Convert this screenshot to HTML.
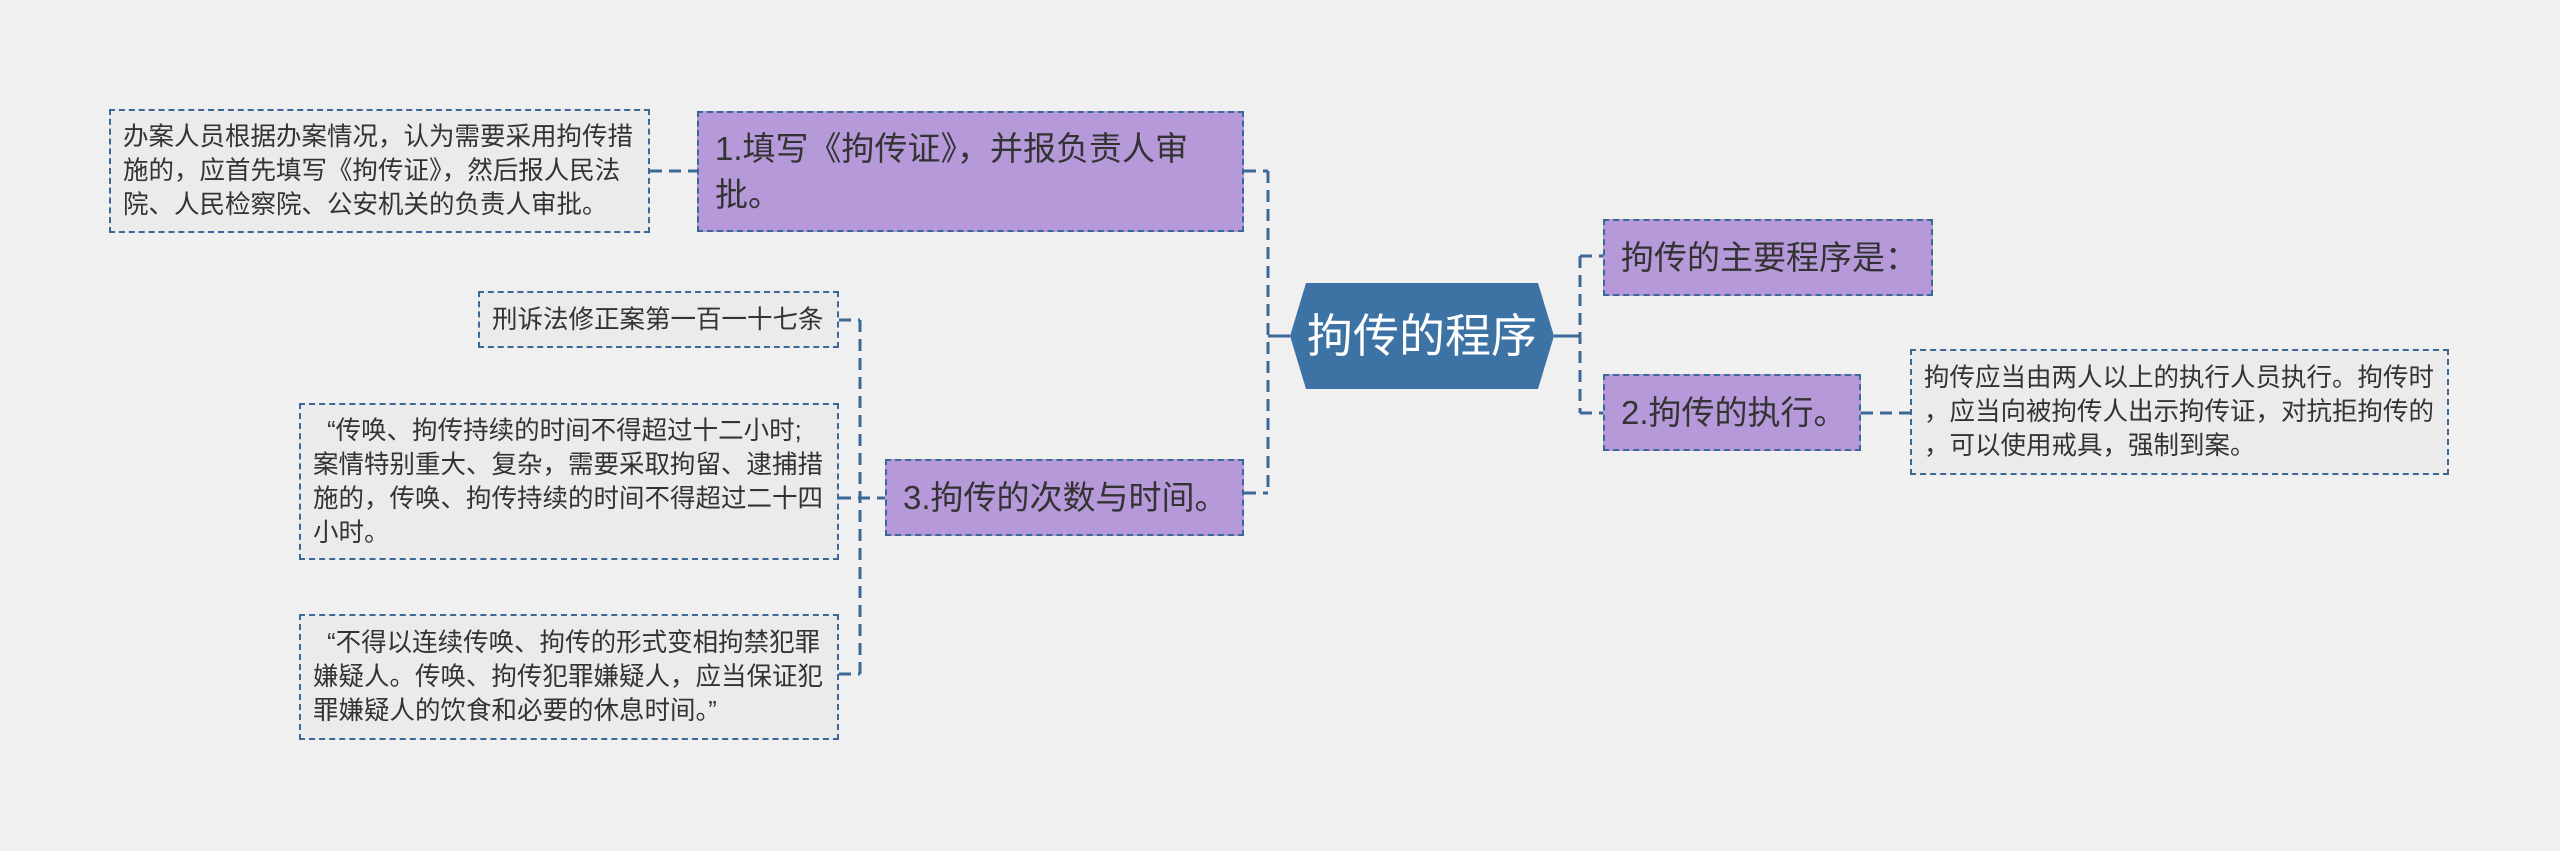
<!DOCTYPE html>
<html><head><meta charset="utf-8"><style>
body{margin:0;width:2560px;height:851px;background:#f0f0f0;overflow:hidden;position:relative;font-family:"Liberation Sans","Noto Sans CJK SC",sans-serif;}
.b{position:absolute;box-sizing:border-box;border:2.5px dashed #3a6897;color:#333;white-space:nowrap;overflow:hidden;}
.p{background:#b599d9;font-size:33px;line-height:46px;padding:0 16px;display:flex;align-items:center;}
.d{background:#ebebeb;font-size:25.5px;line-height:34px;padding:0 12px;display:flex;align-items:center;}
svg{position:absolute;left:0;top:0}
</style></head><body>
<svg width="2560" height="851">
<g stroke="#3a6897" stroke-width="3" fill="none" stroke-dasharray="12,7">
<path d="M1268,171 V493"/>
<path d="M1244,171 H1268"/>
<path d="M1244,493 H1268"/>
<path d="M1268,336 H1290" stroke-dasharray="none"/>
<path d="M1554,336 H1580" stroke-dasharray="none"/>
<path d="M1580,256 V413"/>
<path d="M1580,256 H1603"/>
<path d="M1580,413 H1603"/>
<path d="M650,171 H697"/>
<path d="M1861,413 H1910"/>
<path d="M860,320 V674"/>
<path d="M839,320 H860"/>
<path d="M839,498 H885"/>
<path d="M839,674 H860"/>
</g>
<polygon points="1306,283 1538,283 1554,336 1538,389 1306,389 1290,336" fill="#3d72a4"/>
<text x="1422" y="352" font-size="46" fill="#fff" text-anchor="middle" font-family="Liberation Sans, Noto Sans CJK SC, sans-serif">拘传的程序</text>
</svg>
<div class="b p" style="left:697px;top:111px;width:547px;height:121px;">1.填写《拘传证》，并报负责人审<br>批。</div>
<div class="b d" style="left:109px;top:109px;width:541px;height:124px;">办案人员根据办案情况，认为需要采用拘传措<br>施的，应首先填写《拘传证》，然后报人民法<br>院、人民检察院、公安机关的负责人审批。</div>
<div class="b p" style="left:885px;top:459px;width:359px;height:77px;">3.拘传的次数与时间。</div>
<div class="b d" style="left:478px;top:291px;width:361px;height:57px;">刑诉法修正案第一百一十七条</div>
<div class="b d" style="left:299px;top:403px;width:540px;height:157px;">&nbsp;&nbsp;“传唤、拘传持续的时间不得超过十二小时;<br>案情特别重大、复杂，需要采取拘留、逮捕措<br>施的，传唤、拘传持续的时间不得超过二十四<br>小时。</div>
<div class="b d" style="left:299px;top:614px;width:540px;height:126px;">&nbsp;&nbsp;“不得以连续传唤、拘传的形式变相拘禁犯罪<br>嫌疑人。传唤、拘传犯罪嫌疑人，应当保证犯<br>罪嫌疑人的饮食和必要的休息时间。”</div>
<div class="b p" style="left:1603px;top:219px;width:330px;height:77px;">拘传的主要程序是：</div>
<div class="b p" style="left:1603px;top:374px;width:258px;height:77px;">2.拘传的执行。</div>
<div class="b d" style="left:1910px;top:349px;width:539px;height:126px;">拘传应当由两人以上的执行人员执行。拘传时<br>，应当向被拘传人出示拘传证，对抗拒拘传的<br>，可以使用戒具，强制到案。</div>
</body></html>
